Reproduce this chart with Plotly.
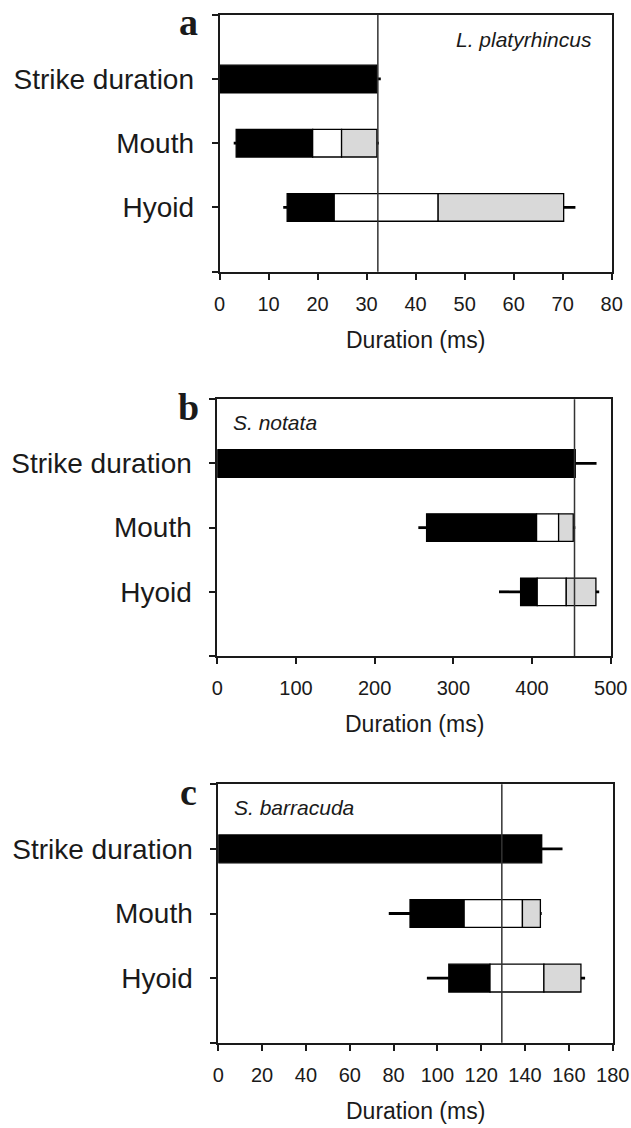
import plotly.graph_objects as go

W, H = 631, 1128

categories = ["Strike duration", "Mouth", "Hyoid"]

# Panel a: L. platyrhincus
a_start = [0, 3.4, 13.8]
a_black_end = [32.1, 19.0, 23.4]
a_white_end = [None, 24.9, 44.6]
a_gray_end = [None, 32.1, 70.2]
a_err_low = [None, 2.9, 13.0]
a_err_high = [32.9, 32.5, 72.6]
a_strike_mean = 32.3
a_ticks = [0, 10, 20, 30, 40, 50, 60, 70, 80]

# Panel b: S. notata
b_start = [0, 266, 385.5]
b_black_end = [455, 405.8, 406.6]
b_white_end = [None, 433.8, 443.5]
b_gray_end = [None, 452.4, 481.2]
b_err_low = [None, 255.5, 358]
b_err_high = [482, 455, 485.4]
b_strike_mean = 454
b_ticks = [0, 100, 200, 300, 400, 500]

# Panel c: S. barracuda
c_start = [0, 87.5, 105.2]
c_black_end = [147.6, 112.2, 124.0]
c_white_end = [None, 138.8, 148.6]
c_gray_end = [None, 147.0, 165.5]
c_err_low = [None, 77.8, 95.2]
c_err_high = [157.1, 147.6, 167.4]
c_strike_mean = 129.4
c_ticks = [0, 20, 40, 60, 80, 100, 120, 140, 160, 180]

panels = [
    dict(letter="a", species="L. platyrhincus", start=a_start, black=a_black_end,
         white=a_white_end, gray=a_gray_end, lo=a_err_low, hi=a_err_high,
         mean=a_strike_mean, ticks=a_ticks,
         px=(219.5, 611.7), py=(14.7, 271.7), sp_right=True),
    dict(letter="b", species="S. notata", start=b_start, black=b_black_end,
         white=b_white_end, gray=b_gray_end, lo=b_err_low, hi=b_err_high,
         mean=b_strike_mean, ticks=b_ticks,
         px=(217.3, 610.7), py=(399.3, 656.0), sp_right=False),
    dict(letter="c", species="S. barracuda", start=c_start, black=c_black_end,
         white=c_white_end, gray=c_gray_end, lo=c_err_low, hi=c_err_high,
         mean=c_strike_mean, ticks=c_ticks,
         px=(218.3, 612.7), py=(784.3, 1042.7), sp_right=False),
]

FONT = "Arial, 'Liberation Sans', sans-serif"
TXT = "#1a1a1a"
LINE = "#1a1a1a"
GRAY = "#d9d9d9"
BAR_W = 0.43

ypos = [i + 1 for i in range(len(categories))]

fig = go.Figure()
layout = {}
annotations = []
shapes = []

for k, p in enumerate(panels):
    sfx = "" if k == 0 else str(k + 1)
    xa, ya = "x" + sfx, "y" + sfx
    segs = [
        (p["start"], p["black"], "black"),
        (p["black"], p["white"], "white"),
        (p["white"], p["gray"], GRAY),
    ]
    for base_arr, end_arr, col in segs:
        ys, xs, bs = [], [], []
        for i in range(len(categories)):
            if base_arr[i] is None or end_arr[i] is None:
                continue
            ys.append(ypos[i])
            bs.append(base_arr[i])
            xs.append(end_arr[i] - base_arr[i])
        fig.add_trace(go.Bar(
            orientation="h", y=ys, x=xs, base=bs, width=BAR_W,
            marker=dict(color=col, line=dict(color="black", width=1.3)),
            xaxis=xa, yaxis=ya, showlegend=False, hoverinfo="skip"))
    ex, ey = [], []
    for i in range(len(categories)):
        end = p["gray"][i] if p["gray"][i] is not None else p["black"][i]
        if p["lo"][i] is not None:
            ex += [p["start"][i], p["lo"][i], None]
            ey += [ypos[i], ypos[i], None]
        if p["hi"][i] is not None:
            ex += [end, p["hi"][i], None]
            ey += [ypos[i], ypos[i], None]
    fig.add_trace(go.Scatter(x=ex, y=ey, mode="lines",
                             line=dict(color="black", width=2.8),
                             xaxis=xa, yaxis=ya, showlegend=False,
                             hoverinfo="skip"))
    shapes.append(dict(type="line", xref=xa, yref=ya + " domain",
                       x0=p["mean"], x1=p["mean"], y0=0, y1=1,
                       line=dict(color="#333333", width=1.5), layer="above"))

    x0, x1 = p["px"]
    y0, y1 = p["py"]
    tickvals_y = [0] + ypos + [len(categories) + 1]
    ticktext_y = [""] + categories + [""]
    layout["xaxis" + sfx] = dict(
        domain=[x0 / W, x1 / W], anchor=ya, automargin=False,
        range=[p["ticks"][0], p["ticks"][-1]],
        tickvals=p["ticks"], ticks="outside", ticklen=6, tickwidth=1.5,
        tickcolor=LINE, showline=True, linecolor=LINE, linewidth=1.8,
        mirror=True, showgrid=False, zeroline=False,
        tickfont=dict(family=FONT, size=20, color=TXT),
        ticklabelstandoff=7)
    layout["yaxis" + sfx] = dict(
        domain=[1 - y1 / H, 1 - y0 / H], anchor=xa, automargin=False,
        range=[len(categories) + 1, 0],
        tickvals=tickvals_y, ticktext=ticktext_y, ticks="outside",
        ticklen=6, tickwidth=1.5, tickcolor=LINE, showline=True,
        linecolor=LINE, linewidth=1.8, mirror=True, showgrid=False,
        zeroline=False, tickfont=dict(family=FONT, size=28, color=TXT),
        ticklabelstandoff=12)
    annotations.append(dict(text="Duration (ms)", xref=xa + " domain", x=0.5,
                            yref=ya + " domain", y=0, yshift=-68,
                            xanchor="center", yanchor="middle", showarrow=False,
                            font=dict(family=FONT, size=23, color=TXT)))
    annotations.append(dict(text="<b>%s</b>" % p["letter"], xref="paper",
                            yref="paper", x=188 / W, y=1 - (y0 - 14.7) / H,
                            xanchor="center", yanchor="top", showarrow=False,
                            borderpad=0,
                            font=dict(family="'Liberation Serif', 'Times New Roman', serif",
                                      size=38, color=TXT)))
    if p["sp_right"]:
        annotations.append(dict(text="<i>%s</i>" % p["species"], xref=xa + " domain",
                                x=1, xshift=-18, yref=ya + " domain", y=1, yshift=-25,
                                xanchor="right", yanchor="middle", showarrow=False,
                                font=dict(family=FONT, size=21, color=TXT)))
    else:
        annotations.append(dict(text="<i>%s</i>" % p["species"], xref=xa + " domain",
                                x=0, xshift=14, yref=ya + " domain", y=1, yshift=-23,
                                xanchor="left", yanchor="middle", showarrow=False,
                                font=dict(family=FONT, size=21, color=TXT)))

fig.update_layout(
    width=W, height=H, margin=dict(l=0, r=0, t=0, b=0, autoexpand=False),
    paper_bgcolor="white", plot_bgcolor="white",
    barmode="overlay", showlegend=False,
    annotations=annotations, shapes=shapes, **layout)

fig.write_html("out.html", config={"displayModeBar": False},
               post_script="document.body.style.margin='0';"
                           "document.body.style.overflow='hidden';")
